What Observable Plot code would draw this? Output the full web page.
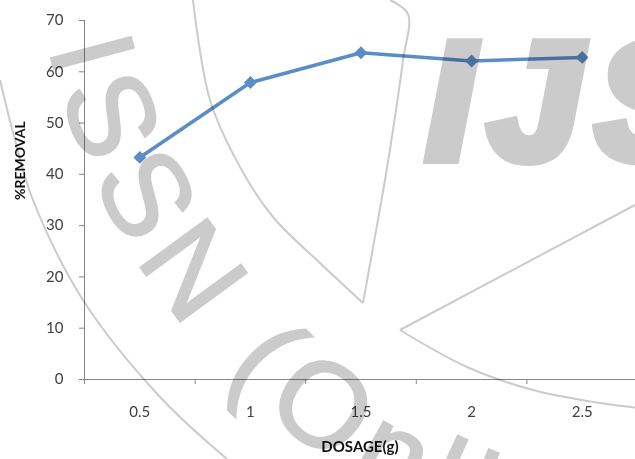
<!DOCTYPE html>
<html>
<head>
<meta charset="utf-8">
<script src="https://cdn.jsdelivr.net/npm/d3@7"></script>
<script src="https://cdn.jsdelivr.net/npm/@observablehq/plot@0.6"></script>
<style>
  body { margin: 0; background: #fff; }
  #chart { position: relative; width: 635px; height: 459px; overflow: hidden; }
</style>
</head>
<body>
<div id="chart"></div>
<script>
// Adsorbent dosage (g) vs. percentage removal
const dosage = [0.5, 1, 1.5, 2, 2.5];
const removal = [43.3, 57.9, 63.7, 62.1, 62.8];
const xLabels = ["0.5", "1", "1.5", "2", "2.5"];
const xBounds = [0.25, 0.75, 1.25, 1.75, 2.25, 2.75];
const yTicks = [0, 10, 20, 30, 40, 50, 60, 70];
const yTitle = "%REMOVAL";
const xTitle = "DOSAGE(g)";

const data = dosage.map((d, i) => ({dosage: d, removal: removal[i]}));

const axisGray = "#868686";
const labelColor = "#404040";
const lineBlue = "#5a8cc8";
const font = "Lato, 'Open Sans', sans-serif";

const chart = Plot.plot({
  width: 635,
  height: 459,
  marginLeft: 84,
  marginRight: 0,
  marginTop: 20,
  marginBottom: 80,
  style: {fontFamily: font, fontSize: "14.5px", background: "transparent", overflow: "visible"},
  x: {domain: [0.25, 2.75], range: [84, 637], axis: null},
  y: {domain: [0, 70], axis: null},
  marks: [
    // value axis
    Plot.ruleX([0.25], {stroke: axisGray, strokeWidth: 1}),
    Plot.axisY({ticks: yTicks, tickSize: 5, tickPadding: 16, label: null,
      stroke: axisGray, fill: labelColor, fontSize: 15, fontFamily: font}),
    // category axis: ticks on category boundaries, labels centred
    Plot.ruleY([0], {stroke: axisGray, strokeWidth: 1}),
    Plot.axisX({ticks: xBounds, tickSize: 5, tickFormat: () => "", label: null, stroke: axisGray}),
    Plot.axisX({ticks: dosage, tickSize: 0, tickPadding: 27, label: null,
      tickFormat: d => xLabels[dosage.indexOf(d)], fill: labelColor, fontSize: 15, fontFamily: font}),
    // series
    Plot.line(data, {x: "dosage", y: "removal", stroke: lineBlue, strokeWidth: 3.5}),
    Plot.dot(data, {x: "dosage", y: "removal", symbol: "diamond2", r: 5.8, fill: lineBlue, stroke: "none"}),
    // axis titles
    Plot.text([yTitle], {frameAnchor: "left", rotate: -90, dx: -64, fontWeight: "bold",
      fontSize: 14, fill: "#111", fontFamily: font}),
    Plot.text([xTitle], {frameAnchor: "bottom", dy: 72, fontWeight: "bold",
      fontSize: 15, fill: "#111", fontFamily: font})
  ]
});

document.getElementById("chart").appendChild(chart);

// Journal seal printed over the figure
const svg = d3.select(chart);
const wm = svg.append("g")
  .style("mix-blend-mode", "multiply")
  .attr("pointer-events", "none")
  .attr("text-anchor", "start");
const sealGray = "#cbcbcb";

const thin = [
  [[193, 0], [210, 100], [240, 167], [273, 217], [320, 263], [363, 303]],
  [[390, 0], [408, 14], [403, 60], [393, 130], [385, 180], [363, 303]],
  [[400, 330], [635, 205]],
  [[400, 330], [467, 367], [533, 390], [600, 403], [640, 408]],
  [[0, 80], [15, 140], [33, 200], [83, 300], [160, 397], [227, 459]]
];
const lineGen = d3.line().curve(d3.curveCatmullRom);
wm.selectAll("path.seal").data(thin).join("path")
  .attr("class", "seal")
  .attr("d", d => lineGen(d))
  .attr("fill", "none")
  .attr("stroke", sealGray)
  .attr("stroke-width", 2);

wm.append("defs").append("path")
  .attr("id", "sealArc")
  .attr("d", "M48.7,47.5 A691,691 0 0 0 1067.5,490.4");
wm.append("text")
  .attr("text-anchor", "start")
  .attr("font-family", "'Liberation Sans', Arial, sans-serif")
  .attr("font-size", 120)
  .attr("letter-spacing", 12)
  .attr("fill", sealGray)
  .attr("stroke", sealGray)
  .attr("stroke-width", 2)
  .append("textPath")
  .attr("href", "#sealArc")
  .text("ISSN (Online)");

wm.append("text")
  .attr("text-anchor", "start")
  .attr("x", 427)
  .attr("y", 158)
  .attr("font-family", "'Liberation Sans', Arial, sans-serif")
  .attr("font-weight", "bold")
  .attr("font-style", "italic")
  .attr("font-size", 165)
  .attr("letter-spacing", 16)
  .attr("fill", sealGray)
  .attr("stroke", sealGray)
  .attr("stroke-width", 12)
  .attr("stroke-linejoin", "miter")
  .text("IJS");
</script>
</body>
</html>
